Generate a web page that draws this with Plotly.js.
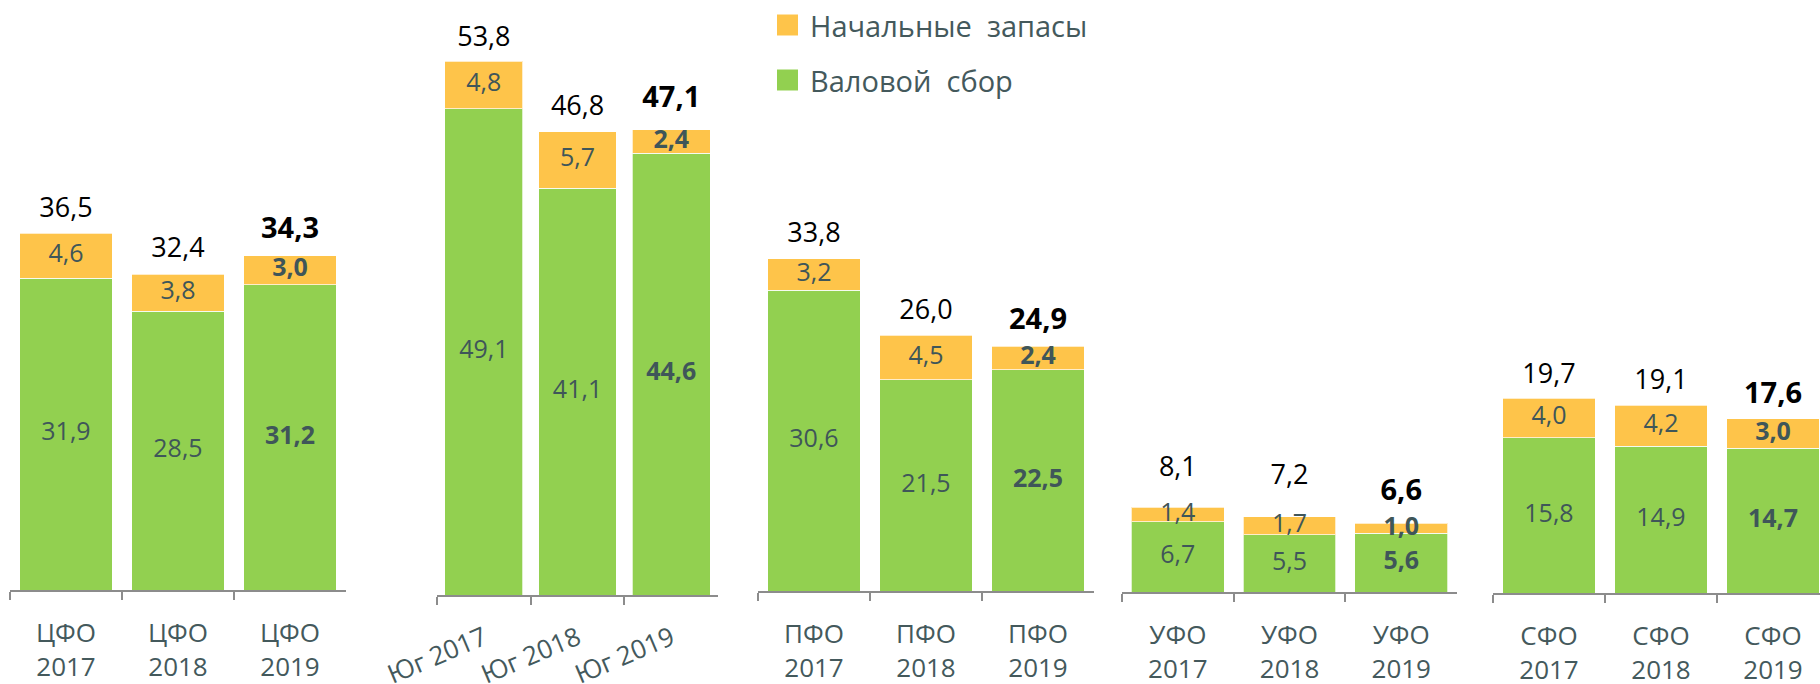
<!DOCTYPE html>
<html>
<head>
<meta charset="utf-8">
<script src="https://cdn.plot.ly/plotly-3.0.1.min.js"></script>
<style>html,body{margin:0;padding:0;background:#fff;}#chart{width:1820px;height:684px;}</style>
</head>
<body>
<div id="chart"></div>
<script>
// ---- data ----
const regions = ['ЦФО', 'Юг', 'ПФО', 'УФО', 'СФО'];
const years = ['2017', '2018', '2019'];
const seriesNames = ['Начальные запасы', 'Валовой сбор'];
// Начальные запасы
const stocksCFO = [4.6, 3.8, 3.0];
const stocksSouth = [4.8, 5.7, 2.4];
const stocksPFO = [3.2, 4.5, 2.4];
const stocksUFO = [1.4, 1.7, 1.0];
const stocksSFO = [4.0, 4.2, 3.0];
// Валовой сбор
const harvestCFO = [31.9, 28.5, 31.2];
const harvestSouth = [49.1, 41.1, 44.6];
const harvestPFO = [30.6, 21.5, 22.5];
const harvestUFO = [6.7, 5.5, 5.6];
const harvestSFO = [15.8, 14.9, 14.7];
// totals
const totalCFO = [36.5, 32.4, 34.3];
const totalSouth = [53.8, 46.8, 47.1];
const totalPFO = [33.8, 26.0, 24.9];
const totalUFO = [8.1, 7.2, 6.6];
const totalSFO = [19.7, 19.1, 17.6];

const stocks = [stocksCFO, stocksSouth, stocksPFO, stocksUFO, stocksSFO];
const harvest = [harvestCFO, harvestSouth, harvestPFO, harvestUFO, harvestSFO];
const totals = [totalCFO, totalSouth, totalPFO, totalUFO, totalSFO];

// ---- layout geometry (pixels) ----
const W = 1820, H = 684;
// pad = size of an invisible marker used to lift each total label off its bar
const geo = [
  {x0: 10,   x1: 346,  base: 590, scale: 9.78,  cat: 112,   standoff: 19, pad: [14, 14, 14]},
  {x0: 437,  x1: 718,  base: 595, scale: 9.9,   cat: 93.7,  standoff: 16, pad: [14, 14, 21]},
  {x0: 758,  x1: 1094, base: 591, scale: 9.83,  cat: 112,   standoff: 19, pad: [14, 14, 14]},
  {x0: 1122, x1: 1457, base: 592, scale: 10.45, cat: 111.7, standoff: 19, pad: [38, 40, 23]},
  {x0: 1493, x1: 1820, base: 593, scale: 9.84,  cat: 112,   standoff: 19, pad: [14, 14, 14]}
];

const GREEN = '#92D050', ORANGE = '#FEC44A';
const LABEL = '#3F5659', TICK = '#44595C';
const FONT = 'Open Sans, Noto Sans, sans-serif';
const fmt = v => v.toFixed(1).replace('.', ',');

const data = [];
const layout = {
  width: W, height: H,
  margin: {l: 0, r: 0, t: 0, b: 0},
  paper_bgcolor: '#fff', plot_bgcolor: 'rgba(0,0,0,0)',
  barmode: 'stack', bargap: 0.17,
  showlegend: false,
  font: {family: FONT, color: TICK},
  shapes: [], annotations: []
};

regions.forEach((r, i) => {
  const g = geo[i];
  const xa = i === 0 ? 'x' : 'x' + (i + 1);
  const ya = i === 0 ? 'y' : 'y' + (i + 1);
  const cats = years.map(y => r === 'Юг' ? r + ' ' + y : r + '<br>' + y);
  const bold = [false, false, true];

  data.push({type: 'bar', x: cats, y: harvest[i], xaxis: xa, yaxis: ya, name: seriesNames[1],
    marker: {color: GREEN, line: {color: 'rgba(255,255,255,0.7)', width: 1}}, hoverinfo: 'skip'});
  data.push({type: 'bar', x: cats, y: stocks[i], xaxis: xa, yaxis: ya, name: seriesNames[0],
    marker: {color: ORANGE, line: {color: 'rgba(255,255,255,0.7)', width: 1}}, hoverinfo: 'skip'});

  // segment labels
  data.push({type: 'scatter', mode: 'text', x: cats, xaxis: xa, yaxis: ya,
    y: harvest[i].map(v => v / 2),
    text: harvest[i].map((v, k) => bold[k] ? '<b>' + fmt(v) + '</b>' : fmt(v)),
    textposition: 'middle center', textfont: {size: 25, color: LABEL, family: FONT},
    cliponaxis: false, hoverinfo: 'skip'});
  data.push({type: 'scatter', mode: 'text', x: cats, xaxis: xa, yaxis: ya,
    y: stocks[i].map((v, k) => harvest[i][k] + v / 2),
    text: stocks[i].map((v, k) => bold[k] ? '<b>' + fmt(v) + '</b>' : fmt(v)),
    textposition: 'middle center', textfont: {size: 25, color: LABEL, family: FONT},
    cliponaxis: false, hoverinfo: 'skip'});
  // totals (invisible marker pushes the text up off the bar top)
  data.push({type: 'scatter', mode: 'markers+text', x: cats, xaxis: xa, yaxis: ya,
    y: totals[i],
    marker: {size: g.pad, color: 'rgba(0,0,0,0)', opacity: 0, line: {width: 0, color: 'rgba(0,0,0,0)'}},
    text: totals[i].map((v, k) => bold[k] ? '<b>' + fmt(v) + '</b>' : fmt(v)),
    textposition: 'top center', textfont: {size: [27, 27, 29], color: '#000', family: FONT},
    cliponaxis: false, hoverinfo: 'skip'});

  const xr1 = -0.5 + (g.x1 - g.x0) / g.cat;
  layout['xaxis' + (i === 0 ? '' : i + 1)] = {
    domain: [g.x0 / W, g.x1 / W], anchor: ya, type: 'category',
    range: [-0.5, Math.min(2.5, xr1)], fixedrange: true,
    showline: true, linecolor: '#8C8C8C', linewidth: 2,
    ticks: 'outside', tickson: 'boundaries', ticklen: 8, tickwidth: 2, tickcolor: '#8C8C8C',
    showgrid: false, zeroline: false,
    ticklabelstandoff: g.standoff,
    tickfont: {size: 26, color: TICK, family: FONT},
    tickangle: r === 'Юг' ? -23 : 0
  };
  layout['yaxis' + (i === 0 ? '' : i + 1)] = {
    domain: [(H - g.base) / H, 1], anchor: xa, range: [0, g.base / g.scale],
    visible: false, fixedrange: true, showgrid: false, zeroline: false
  };
});

// legend (drawn as shapes + text)
const legendItems = [
  {name: seriesNames[0], color: ORANGE, yc: 25},
  {name: seriesNames[1], color: GREEN, yc: 80}
];
legendItems.forEach(it => {
  layout.shapes.push({type: 'rect', xref: 'paper', yref: 'paper',
    x0: 777 / W, x1: 798 / W, y0: 1 - (it.yc - 10.5) / H, y1: 1 - (it.yc + 10.5) / H,
    fillcolor: it.color, line: {width: 0}});
  layout.annotations.push({xref: 'paper', yref: 'paper', x: 808 / W, y: 1 - it.yc / H,
    xanchor: 'left', yanchor: 'middle', showarrow: false,
    text: it.name.replace(' ', '&nbsp; '),
    font: {size: 29, color: TICK, family: FONT}});
});

Plotly.newPlot('chart', data, layout, {displayModeBar: false, staticPlot: true});
</script>
</body>
</html>
